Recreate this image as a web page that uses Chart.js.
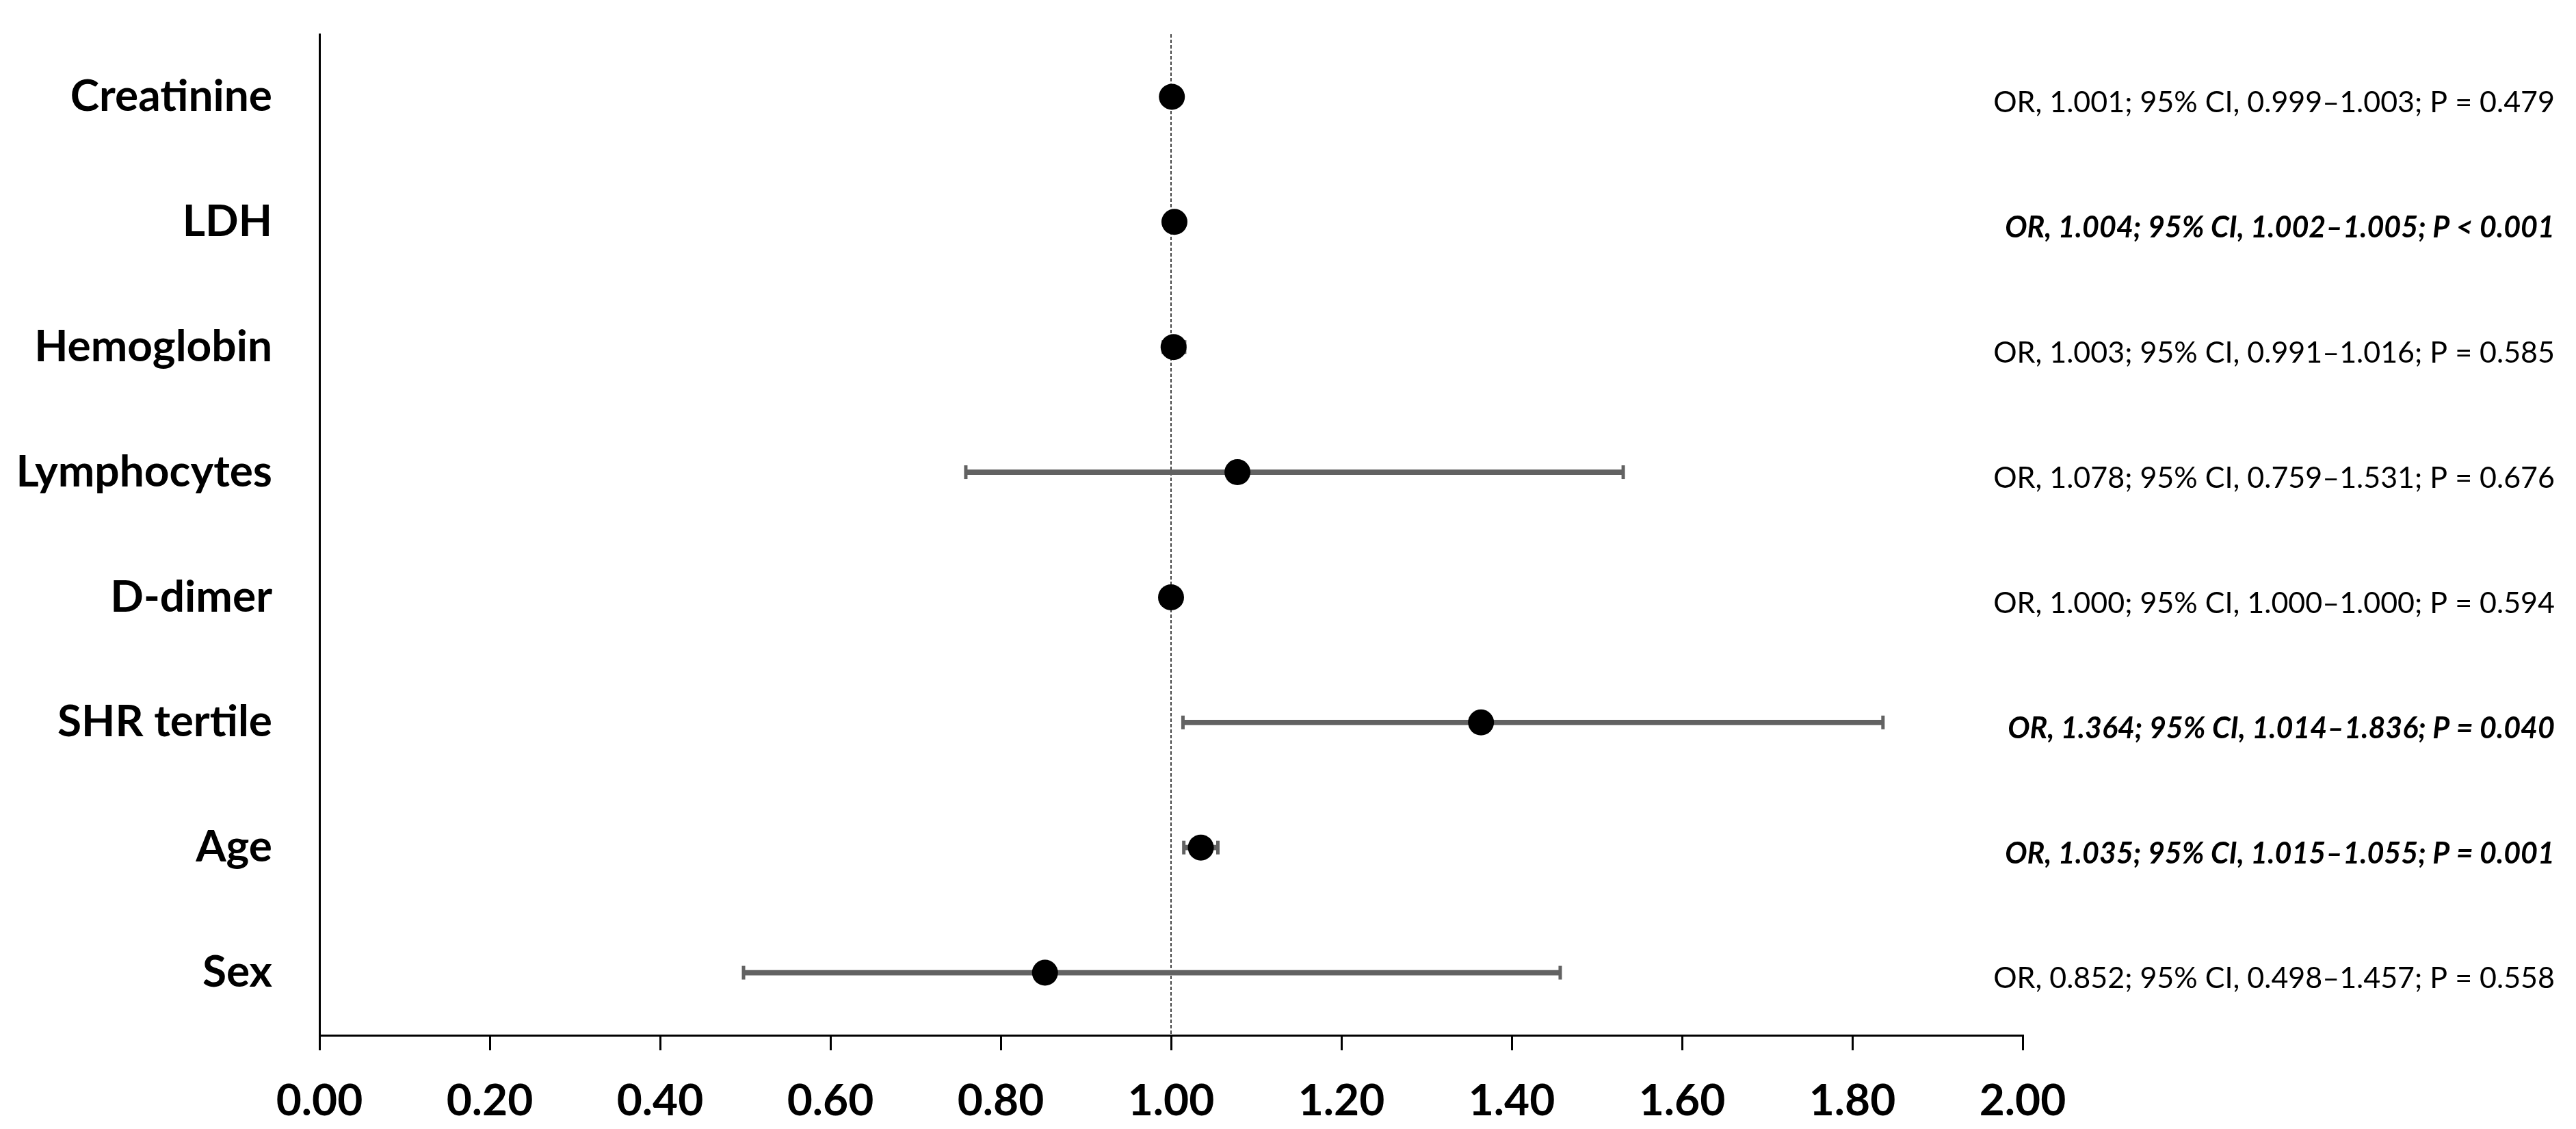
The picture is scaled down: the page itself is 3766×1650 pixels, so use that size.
<!DOCTYPE html>
<html>
<head>
<meta charset="utf-8">
<script src="https://cdn.jsdelivr.net/npm/chart.js@4.4.1/dist/chart.umd.min.js"></script>
<style>
  html, body { margin: 0; padding: 0; background: #ffffff; }
  #wrap { width: 3766px; height: 1650px; position: relative; }
</style>
</head>
<body>
<div id="wrap"><canvas id="c" width="3766" height="1650"></canvas></div>
<script>
// ---- data ----
const categories = ["Creatinine", "LDH", "Hemoglobin", "Lymphocytes", "D-dimer", "SHR tertile", "Age", "Sex"];
const oddsRatios = [1.001, 1.004, 1.003, 1.078, 1.000, 1.364, 1.035, 0.852];
const ciLower    = [0.999, 1.002, 0.991, 0.759, 1.000, 1.014, 1.015, 0.498];
const ciUpper    = [1.003, 1.005, 1.016, 1.531, 1.000, 1.836, 1.055, 1.457];
const pLabels    = ["P = 0.479", "P < 0.001", "P = 0.585", "P = 0.676", "P = 0.594", "P = 0.040", "P = 0.001", "P = 0.558"];
const significant = [false, true, false, false, false, true, true, false];
const xTicks = [0, 0.2, 0.4, 0.6, 0.8, 1.0, 1.2, 1.4, 1.6, 1.8, 2.0];
const referenceValue = 1.0;

const annotationTexts = categories.map((c, i) =>
  "OR, " + oddsRatios[i].toFixed(3) + "; 95% CI, " + ciLower[i].toFixed(3) + "\u2013" + ciUpper[i].toFixed(3) + "; " + pLabels[i]);

const FONT = "Lato, 'Liberation Sans', Arial, sans-serif";
const BAR_GRAY = '#626262';

const refLinePlugin = {
  id: 'refLine',
  beforeDatasetsDraw(chart) {
    const {ctx, chartArea, scales} = chart;
    const x = scales.x.getPixelForValue(referenceValue);
    ctx.save();
    ctx.strokeStyle = '#444444';
    ctx.lineWidth = 2;
    ctx.setLineDash([5, 3]);
    ctx.beginPath();
    ctx.moveTo(x, chartArea.top);
    ctx.lineTo(x, chartArea.bottom);
    ctx.stroke();
    ctx.restore();
  }
};

const annotationPlugin = {
  id: 'annotations',
  afterDraw(chart) {
    const {ctx, scales} = chart;
    ctx.save();
    ctx.fillStyle = '#000000';
    ctx.textAlign = 'right';
    ctx.textBaseline = 'middle';
    annotationTexts.forEach((t, i) => {
      const y = scales.y.getPixelForValue(i) + 9;
      ctx.font = (significant[i] ? 'italic bold ' : '') + '43px ' + FONT;
      ctx.fillText(t, 3735, y);
    });
    ctx.restore();
  }
};

new Chart(document.getElementById('c'), {
  type: 'bar',
  data: {
    labels: categories,
    datasets: [
      {
        type: 'scatter',
        label: 'OR',
        data: oddsRatios.map((v, i) => ({x: v, y: categories[i]})),
        pointStyle: 'circle',
        pointRadius: 19,
        pointBackgroundColor: '#000000',
        pointBorderColor: '#000000',
        pointBorderWidth: 0,
        xAxisID: 'x', yAxisID: 'y',
        order: 0
      },
      {
        type: 'scatter',
        label: 'lower cap',
        data: ciLower.map((v, i) => ({x: v, y: categories[i]})),
        pointStyle: 'line',
        rotation: 90,
        pointRadius: 10,
        pointBorderWidth: 5,
        pointBorderColor: BAR_GRAY,
        xAxisID: 'x', yAxisID: 'y',
        order: 1
      },
      {
        type: 'scatter',
        label: 'upper cap',
        data: ciUpper.map((v, i) => ({x: v, y: categories[i]})),
        pointStyle: 'line',
        rotation: 90,
        pointRadius: 10,
        pointBorderWidth: 5,
        pointBorderColor: BAR_GRAY,
        xAxisID: 'x', yAxisID: 'y',
        order: 1
      },
      {
        type: 'bar',
        label: 'CI',
        indexAxis: 'y',
        data: ciLower.map((v, i) => [v, ciUpper[i]]),
        backgroundColor: BAR_GRAY,
        borderWidth: 0,
        barThickness: 7,
        xAxisID: 'x', yAxisID: 'y',
        order: 2
      }
    ]
  },
  options: {
    indexAxis: 'y',
    responsive: false,
    animation: false,
    layout: { padding: { top: 50, right: 809, left: 0, bottom: 0 } },
    plugins: { legend: { display: false }, tooltip: { enabled: false } },
    scales: {
      x: {
        type: 'linear',
        position: 'bottom',
        min: 0, max: 2,
        afterBuildTicks(scale) { scale.ticks = xTicks.map(v => ({value: v})); },
        afterFit(scale) { scale.height = 137; scale.paddingLeft = 0; scale.paddingRight = 0; },
        grid: { display: true, drawOnChartArea: false, drawTicks: true, tickLength: 22, tickWidth: 3, tickColor: '#000000', color: '#000000', lineWidth: 3 },
        border: { display: true, color: '#000000', width: 3 },
        ticks: {
          color: '#000000',
          padding: 36,
          maxRotation: 0,
          autoSkip: false,
          font: { family: FONT, size: 64, weight: 'bold' },
          callback: (v) => Number(v).toFixed(2)
        }
      },
      y: {
        type: 'category',
        position: 'left',
        labels: categories,
        offset: true,
        afterFit(scale) { scale.width = 467; scale.paddingTop = 0; scale.paddingBottom = 0; },
        grid: { display: false, drawTicks: false },
        border: { display: true, color: '#000000', width: 3 },
        ticks: {
          color: '#000000',
          padding: 69,
          font: { family: FONT, size: 64, weight: 'bold' }
        }
      }
    }
  },
  plugins: [refLinePlugin, annotationPlugin]
});
</script>
</body>
</html>
